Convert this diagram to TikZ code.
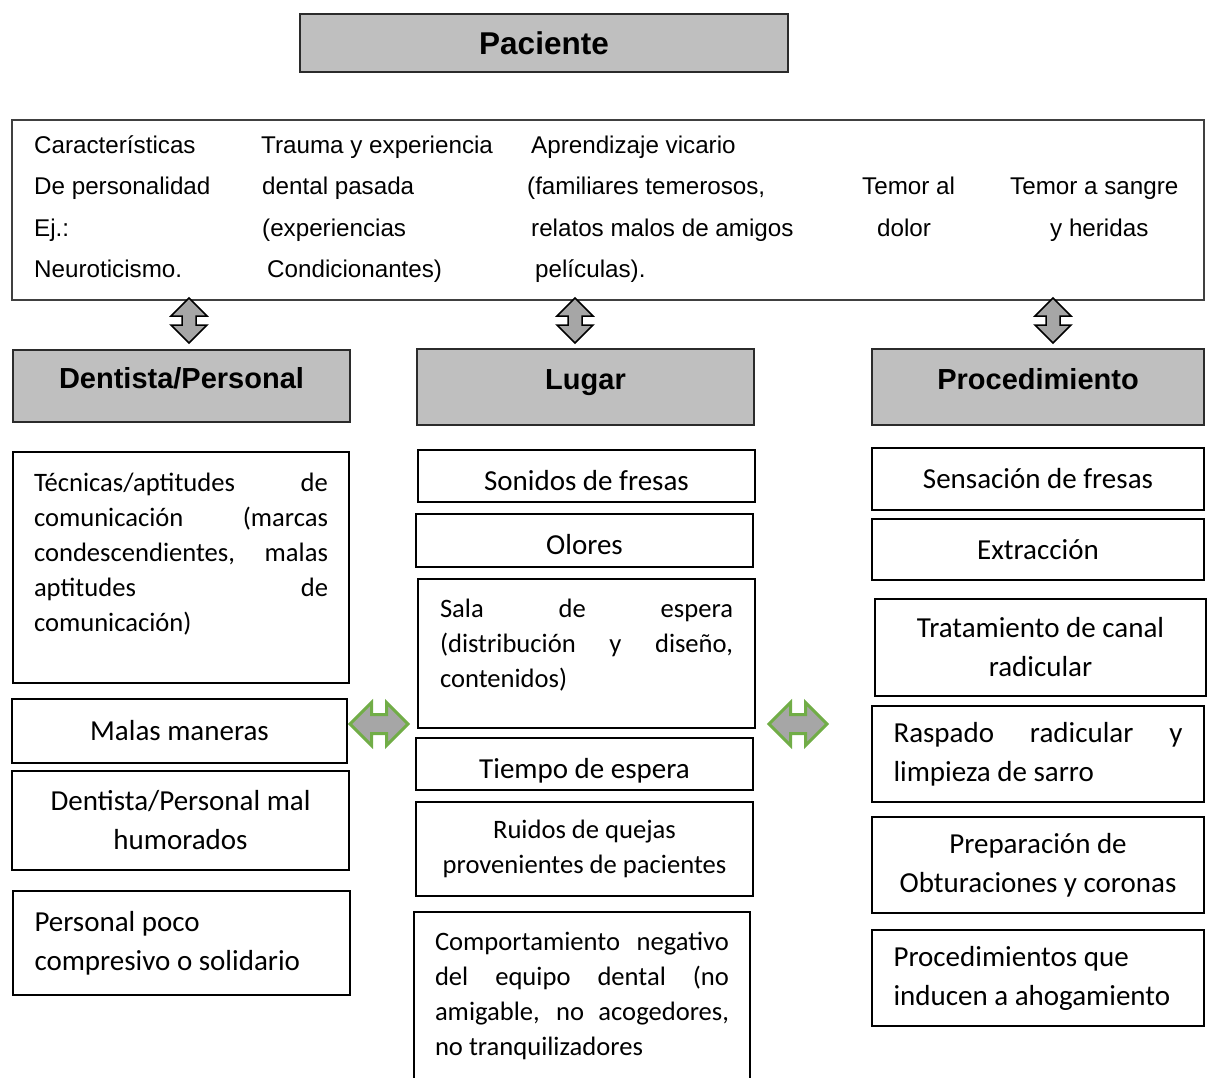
\documentclass[tikz,border=0pt]{standalone}
\usepackage{fontspec}
\setmainfont{Carlito}
\newfontfamily\arialfont{Liberation Sans}
\usetikzlibrary{positioning}
\definecolor{PanelGrey}{HTML}{BFBFBF}
\definecolor{EdgeGrey}{HTML}{2B2B2B}
\definecolor{FrameGrey}{HTML}{404040}
\definecolor{ArrowGrey}{HTML}{A6A6A6}
\definecolor{LeafGreen}{HTML}{71AD47}

\begin{document}
\begin{tikzpicture}[x=1pt, y=-1pt,
    every node/.style={inner sep=4pt},
    title/.style={draw=EdgeGrey, line width=2pt, fill=PanelGrey,
        minimum width=488pt, minimum height=58pt,
        font=\arialfont\bfseries\fontsize{31.5}{36}\selectfont},
    head/.style={draw=EdgeGrey, line width=2pt, fill=PanelGrey,
        minimum height=76pt, text height=20pt, text depth=16pt,
        font=\arialfont\bfseries\fontsize{29}{34}\selectfont},
    item/.style={draw=black, line width=1.8pt, align=center,
        font=\fontsize{29}{39}\selectfont},
    low/.style={text height=28pt, text depth=0pt},
    note/.style={align=justify, inner sep=0pt, font=\fontsize{26.6}{35}\selectfont},
    cause/.style={anchor=base west, inner sep=0pt,
        font=\arialfont\fontsize{24.2}{29}\selectfont},
    updown/.pic={\draw[fill=ArrowGrey, line width=1.5pt]
        (0,-22) -- (18,-4) -- (7,-4) -- (7,5) -- (18,5) -- (0,23)
        -- (-18,5) -- (-7,5) -- (-7,-4) -- (-18,-4) -- cycle;},
    sideways/.pic={\draw[fill=ArrowGrey, draw=LeafGreen, line width=3pt]
        (-29,0) -- (-7.5,-21.5) -- (-7.5,-9.5) -- (7.5,-9.5) -- (7.5,-21.5) -- (29,0)
        -- (7.5,21.5) -- (7.5,9.5) -- (-7.5,9.5) -- (-7.5,21.5) -- cycle;},
]
\useasboundingbox (0,0) rectangle (1207,1077);

% === Title ===
\node[title] (pac) at (544,43) {Paciente};

% =============================================
% FACTORS OF THE PATIENT
% =============================================
\node[draw=FrameGrey, line width=2pt, minimum width=1192pt, minimum height=180pt] (fac) at (608,210) {};

\node[cause] (per1) at (34,153) {Características};
\node[cause] (per2) at (34,194) {De personalidad};
\node[cause] (per3) at (34,236) {Ej.:};
\node[cause] (per4) at (34,277) {Neuroticismo.};

\node[cause] (tra1) at (261,153) {Trauma y experiencia};
\node[cause] (tra2) at (262,194) {dental pasada};
\node[cause] (tra3) at (262,236) {(experiencias};
\node[cause] (tra4) at (267,277) {Condicionantes)};

\node[cause] (apr1) at (531,153) {Aprendizaje vicario};
\node[cause] (apr2) at (527,194) {(familiares temerosos,};
\node[cause] (apr3) at (531,236) {relatos malos de amigos};
\node[cause] (apr4) at (535,277) {películas).};

\node[cause] (dol1) at (862,194) {Temor al};
\node[cause] (dol2) at (877,236) {dolor};

\node[cause] (san1) at (1010,194) {Temor a sangre};
\node[cause] (san2) at (1050,236) {y heridas};

% up-down arrows under the factors
\pic at (189,320) {updown};
\pic at (575,320) {updown};
\pic at (1053,320) {updown};

% =============================================
% HEADERS
% =============================================
\node[head, minimum width=337pt, minimum height=72pt] (den) at (181.5,386) {Dentista/Personal};
\node[head, minimum width=337pt] (lug) at (585.5,387) {Lugar};
\node[head, minimum width=332pt] (pro) at (1038,387) {Procedimiento};

% =============================================
% DENTISTA / PERSONAL
% =============================================
\node[item, minimum width=336pt, minimum height=231pt] (tec) at (181,567.5) {};
\node[note, text width=294pt, below=22pt of tec.north] (tecT)
    {Técnicas/aptitudes de\linebreak comunicación (marcas\linebreak
     condescendientes, malas\linebreak aptitudes de\linebreak comunicación)};
\node[item, minimum width=335pt, minimum height=64pt] (mal) at (179.5,731) {Malas maneras};
\node[item, minimum width=337pt, minimum height=99pt] (hum) at (180.5,820.5)
    {Dentista/Personal mal\\humorados};
\node[item, minimum width=337pt, minimum height=104pt, text width=294pt, align=flush left] (poc)
    at (181.5,943) {Personal poco\\compresivo o solidario};

% =============================================
% LUGAR
% =============================================
\node[item, low, minimum width=337pt, minimum height=52pt] (son) at (586.5,476) {Sonidos de fresas};
\node[item, low, minimum width=337pt, minimum height=53pt] (olo) at (584.5,540.5) {Olores};
\node[item, minimum width=337pt, minimum height=149pt] (sal) at (586.5,653.5) {};
\node[note, text width=293pt, below=21pt of sal.north] (salT)
    {Sala de espera\linebreak (distribución y diseño,\linebreak contenidos)};
\node[item, low, minimum width=337pt, minimum height=52pt] (tie) at (584.5,764) {Tiempo de espera};
\node[item, minimum width=337pt, minimum height=94pt, font=\fontsize{26.6}{35}\selectfont] (rui)
    at (584.5,849) {Ruidos de quejas\\provenientes de pacientes};
\node[item, minimum width=336pt, minimum height=185pt] (com) at (582,1004.5) {};
\node[note, text width=294pt, below=21pt of com.north] (comT)
    {Comportamiento negativo\linebreak del equipo dental (no\linebreak
     amigable, no acogedores,\linebreak no tranquilizadores};

% =============================================
% PROCEDIMIENTO
% =============================================
\node[item, minimum width=332pt, minimum height=62pt] (sen) at (1038,479) {Sensación de fresas};
\node[item, minimum width=332pt, minimum height=61pt] (ext) at (1038,549.5) {Extracción};
\node[item, minimum width=331pt, minimum height=97pt] (can) at (1040.5,647.5)
    {Tratamiento de canal\\radicular};
\node[item, minimum width=332pt, minimum height=96pt, text width=289pt, align=justify] (ras)
    at (1038,754) {Raspado radicular y\linebreak limpieza de sarro};
\node[item, minimum width=332pt, minimum height=96pt] (obt) at (1038,865)
    {Preparación de\\Obturaciones y coronas};
\node[item, minimum width=332pt, minimum height=96pt, text width=289pt, align=flush left] (aho)
    at (1038,978) {Procedimientos que\\inducen a ahogamiento};

% green side arrows between the columns
\pic at (379,724) {sideways};
\pic at (798,724) {sideways};

\end{tikzpicture}
\end{document}
